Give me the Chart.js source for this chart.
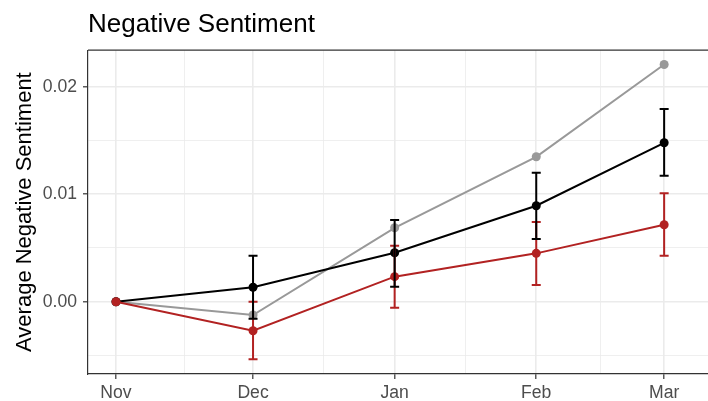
<!DOCTYPE html>
<html>
<head>
<meta charset="utf-8">
<script src="https://cdn.jsdelivr.net/npm/chart.js@4/dist/chart.umd.min.js"></script>
<style>
  body { margin: 0; background: #fff; }
  #wrap { width: 708px; height: 401px; }
</style>
</head>
<body>
<div id="wrap"><canvas id="chart"></canvas></div>
<script>
// data
const months = ['Nov', 'Dec', 'Jan', 'Feb', 'Mar'];
// x is a date axis: days since 1 Nov for the first of each month
const monthDays = [0, 30, 61, 92, 120];

const grayMean = [0, -0.00124, 0.00688, 0.01349, 0.02208];

const blackMean = [0, 0.00134, 0.00456, 0.00893, 0.01479];
const blackLow  = [0, -0.00158, 0.0014, 0.00583, 0.01172];
const blackHigh = [0, 0.00428, 0.0076, 0.0120, 0.01793];

const redMean = [0, -0.0027, 0.00233, 0.0045, 0.00716];
const redLow  = [0, -0.00536, -0.00056, 0.00155, 0.00428];
const redHigh = [0, 0.0000, 0.00521, 0.00741, 0.0101];

const yTicks = [-0.005, 0, 0.005, 0.01, 0.015, 0.02];
// minor x breaks sit halfway between months
const xMinor = monthDays.slice(1).map((d, i) => (d + monthDays[i]) / 2);

const RED = '#B22222';
const GRAY = '#999999';
const BLACK = '#000000';

const pts = arr => arr.map((v, i) => ({ x: monthDays[i], y: v }));

function line(label, values, color, low, high) {
    return {
        label: label,
        data: pts(values),
        borderColor: color,
        backgroundColor: color,
        borderWidth: 2,
        pointRadius: 4.5,
        pointBorderWidth: 0,
        pointHoverRadius: 4.5,
        errLow: low,
        errHigh: high
    };
}

// error bars drawn through the chart's own scales
const errorBars = {
    id: 'errorBars',
    afterDatasetsDraw(chart) {
        const ctx = chart.ctx;
        const xs = chart.scales.x, ys = chart.scales.y;
        chart.data.datasets.forEach(ds => {
            if (!ds.errLow) return;
            ctx.save();
            ctx.strokeStyle = ds.borderColor;
            ctx.lineWidth = 2;
            ds.errLow.forEach((lo, i) => {
                const hi = ds.errHigh[i];
                if (lo === hi) return;
                const x = xs.getPixelForValue(monthDays[i]);
                const y1 = ys.getPixelForValue(lo);
                const y2 = ys.getPixelForValue(hi);
                const w = 4.5;
                ctx.beginPath();
                ctx.moveTo(x, y1); ctx.lineTo(x, y2);
                ctx.moveTo(x - w, y1); ctx.lineTo(x + w, y1);
                ctx.moveTo(x - w, y2); ctx.lineTo(x + w, y2);
                ctx.stroke();
            });
            ctx.restore();
        });
    }
};

// top border of the panel + title aligned to the panel
const panelBits = {
    id: 'panelBits',
    afterLayout(chart) {
        chart.titleBlock.left = chart.chartArea.left;
    },
    afterDraw(chart) {
        const { ctx, chartArea } = chart;
        ctx.save();
        ctx.strokeStyle = '#333333';
        ctx.lineWidth = 1.2;
        ctx.beginPath();
        ctx.moveTo(chartArea.left, chartArea.top);
        ctx.lineTo(chartArea.right, chartArea.top);
        ctx.stroke();
        ctx.restore();
    }
};

const isMajorY = v => Math.abs(v * 100 - Math.round(v * 100)) < 1e-6;
const isMajorX = v => monthDays.includes(v);

new Chart(document.getElementById('chart'), {
    type: 'line',
    data: {
        datasets: [
            line('red', redMean, RED, redLow, redHigh),
            line('black', blackMean, BLACK, blackLow, blackHigh),
            line('gray', grayMean, GRAY)
        ]
    },
    plugins: [errorBars, panelBits],
    options: {
        responsive: true,
        maintainAspectRatio: false,
        animation: false,
        layout: { padding: 0, autoPadding: false },
        plugins: {
            legend: { display: false },
            tooltip: { enabled: false },
            title: {
                display: true,
                text: 'Negative Sentiment',
                align: 'start',
                color: '#000',
                font: { family: 'Liberation Sans, Arial, sans-serif', size: 26, weight: 'normal' },
                padding: { top: 9, bottom: 10 }
            }
        },
        scales: {
            x: {
                type: 'linear',
                min: -6.13,
                max: 129.6,
                afterBuildTicks: s => {
                    s.ticks = monthDays.concat(xMinor).sort((a, b) => a - b).map(v => ({ value: v }));
                },
                afterFit: s => { s.height = 27; s.paddingLeft = 0; s.paddingRight = 0; },
                border: { color: '#333333', width: 1.2 },
                grid: {
                    color: '#EBEBEB',
                    lineWidth: c => isMajorX(c.tick.value) ? 1.6 : 0.8,
                    tickColor: c => isMajorX(c.tick.value) ? '#333333' : 'rgba(0,0,0,0)',
                    tickLength: 5,
                    tickWidth: 1.2
                },
                ticks: {
                    autoSkip: false,
                    maxRotation: 0,
                    padding: 4,
                    color: '#4D4D4D',
                    font: { family: 'Liberation Sans, Arial, sans-serif', size: 17.6 },
                    callback: v => isMajorX(v) ? months[monthDays.indexOf(v)] : ''
                }
            },
            y: {
                type: 'linear',
                min: -0.00673,
                max: 0.02341,
                afterBuildTicks: s => { s.ticks = yTicks.map(v => ({ value: v })); },
                afterFit: s => { s.width = 88; },
                border: { color: '#333333', width: 1.2 },
                grid: {
                    color: '#EBEBEB',
                    lineWidth: c => isMajorY(c.tick.value) ? 1.6 : 0.8,
                    tickColor: c => isMajorY(c.tick.value) ? '#333333' : 'rgba(0,0,0,0)',
                    tickLength: 5,
                    tickWidth: 1.2
                },
                ticks: {
                    padding: 6,
                    color: '#4D4D4D',
                    font: { family: 'Liberation Sans, Arial, sans-serif', size: 17.6 },
                    callback: v => isMajorY(v) ? v.toFixed(2) : ''
                },
                title: {
                    display: true,
                    text: 'Average Negative Sentiment',
                    color: '#000',
                    font: { family: 'Liberation Sans, Arial, sans-serif', size: 22 },
                    padding: { top: 12, bottom: 0 }
                }
            }
        }
    }
});
</script>
</body>
</html>
